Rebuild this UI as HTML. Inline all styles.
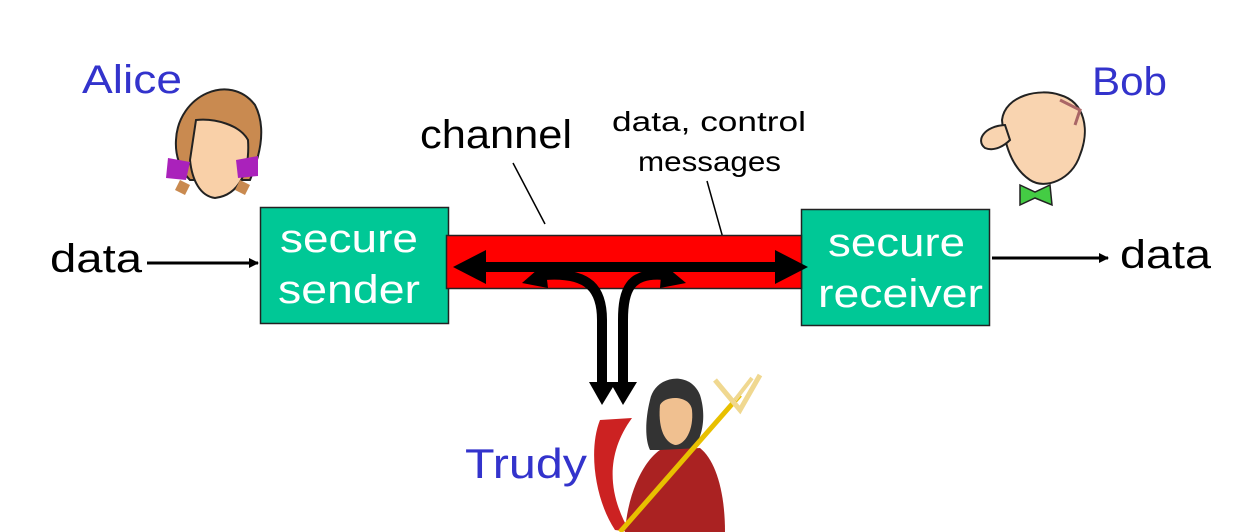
<!DOCTYPE html>
<html><head><meta charset="utf-8"><style>
html,body{margin:0;padding:0;background:#fff;}
svg{display:block;font-family:"Liberation Sans",sans-serif;}
</style></head><body>
<svg width="1234" height="532" viewBox="0 0 1234 532" xmlns="http://www.w3.org/2000/svg">
<defs>
<marker id="ah" markerWidth="10" markerHeight="10" refX="9" refY="5" orient="auto" markerUnits="userSpaceOnUse"><path d="M0,0 L10,5 L0,10z" fill="#000"/></marker>
</defs>
<text x="82" y="93" font-size="40" fill="#3333cc" textLength="100" lengthAdjust="spacingAndGlyphs">Alice</text>
<text x="1092" y="95" font-size="40" fill="#3333cc" textLength="75" lengthAdjust="spacingAndGlyphs">Bob</text>
<text x="465" y="478" font-size="42" fill="#3333cc" textLength="122" lengthAdjust="spacingAndGlyphs">Trudy</text>
<text x="420" y="148" font-size="40" fill="#000" textLength="152" lengthAdjust="spacingAndGlyphs">channel</text>
<text x="612" y="131" font-size="28" fill="#000" textLength="194" lengthAdjust="spacingAndGlyphs">data, control</text>
<text x="638" y="171" font-size="28" fill="#000" textLength="143" lengthAdjust="spacingAndGlyphs">messages</text>
<text x="50" y="272" font-size="40" fill="#000" textLength="92" lengthAdjust="spacingAndGlyphs">data</text>
<text x="1120" y="268" font-size="40" fill="#000" textLength="91" lengthAdjust="spacingAndGlyphs">data</text>
<line x1="513" y1="163" x2="545" y2="224" stroke="#000" stroke-width="1.5"/>
<line x1="707" y1="181" x2="728" y2="256" stroke="#000" stroke-width="1.5"/>
<line x1="147" y1="263" x2="258" y2="263" stroke="#000" stroke-width="3" marker-end="url(#ah)"/>
<line x1="992" y1="258" x2="1108" y2="258" stroke="#000" stroke-width="3" marker-end="url(#ah)"/>
<rect x="260.5" y="207.5" width="188" height="116" fill="#00c896" stroke="#222" stroke-width="1.5"/>
<text x="280" y="252" font-size="40" fill="#fff" textLength="138" lengthAdjust="spacingAndGlyphs">secure</text>
<text x="278" y="303" font-size="40" fill="#fff" textLength="142" lengthAdjust="spacingAndGlyphs">sender</text>
<rect x="801.5" y="209.5" width="188" height="116" fill="#00c896" stroke="#222" stroke-width="1.5"/>
<text x="828" y="256" font-size="40" fill="#fff" textLength="137" lengthAdjust="spacingAndGlyphs">secure</text>
<text x="818" y="307" font-size="40" fill="#fff" textLength="165" lengthAdjust="spacingAndGlyphs">receiver</text>
<rect x="446.5" y="235.5" width="355" height="53" fill="#ff0000" stroke="#222" stroke-width="1.5"/>
<line x1="480" y1="267" x2="780" y2="267" stroke="#000" stroke-width="10"/>
<path d="M453,267 L486,250 L486,284z" fill="#000"/>
<path d="M808,267 L775,250 L775,284z" fill="#000"/>
<path d="M545,275 C590,272 602,290 602,320 L602,385" fill="none" stroke="#000" stroke-width="10"/>
<path d="M522,283 L545,263 L548,288z" fill="#000"/>
<path d="M589,382 L616,382 L602,405z" fill="#000"/>
<path d="M664,275 C630,272 623,290 623,320 L623,385" fill="none" stroke="#000" stroke-width="10"/>
<path d="M686,283 L662,263 L660,288z" fill="#000"/>
<path d="M610,382 L637,382 L623,405z" fill="#000"/>
<g>
<path d="M176,140 C178,95 230,72 255,105 C268,130 258,160 250,180 L190,180 C180,170 175,155 176,140z" fill="#c98a50" stroke="#222" stroke-width="2"/>
<path d="M196,120 C215,118 240,125 248,140 C250,170 240,195 215,198 C200,196 192,180 190,160z" fill="#f9d0a8" stroke="#222" stroke-width="2"/>
<path d="M168,158 L190,162 L186,180 L166,178z" fill="#aa22bb"/>
<path d="M236,160 L258,156 L258,176 L238,178z" fill="#aa22bb"/>
<path d="M180,180 L190,185 L185,195 L175,190z" fill="#c98a50"/>
<path d="M240,180 L250,185 L245,195 L235,190z" fill="#c98a50"/>
</g>
<g>
<path d="M1002,120 C1005,95 1040,88 1060,95 C1085,102 1090,130 1080,155 C1072,180 1045,190 1030,180 C1015,170 1005,150 1002,120z" fill="#f9d4b0" stroke="#222" stroke-width="2"/>
<path d="M1005,125 C985,126 975,140 985,148 C995,152 1005,145 1010,140z" fill="#f9d4b0" stroke="#222" stroke-width="2"/>
<path d="M1060,100 L1080,110 L1075,125" fill="none" stroke="#a66" stroke-width="3"/>
<path d="M1020,185 L1035,192 L1050,185 L1052,205 L1035,198 L1020,205z" fill="#44cc44" stroke="#222" stroke-width="1.5"/>
</g>
<g>
<path d="M600,420 C588,450 595,500 615,530 L630,532 C608,495 605,455 632,418z" fill="#cc2222"/>
<path d="M650,400 C655,375 690,370 700,395 C708,420 700,445 690,450 L650,450 C645,440 645,420 650,400z" fill="#333"/>
<path d="M660,405 C665,395 690,395 692,410 C694,430 685,445 675,445 C663,442 658,425 660,405z" fill="#f0c090"/>
<path d="M625,532 C628,490 645,460 660,450 L700,448 C715,460 725,490 725,532z" fill="#aa2222"/>
<line x1="620" y1="532" x2="740" y2="395" stroke="#e8c000" stroke-width="5"/>
<path d="M715,380 L740,410 L760,375" fill="none" stroke="#f0d890" stroke-width="5"/>
<line x1="735" y1="400" x2="752" y2="378" stroke="#f0d890" stroke-width="4"/>
</g>
</svg>
</body></html>
